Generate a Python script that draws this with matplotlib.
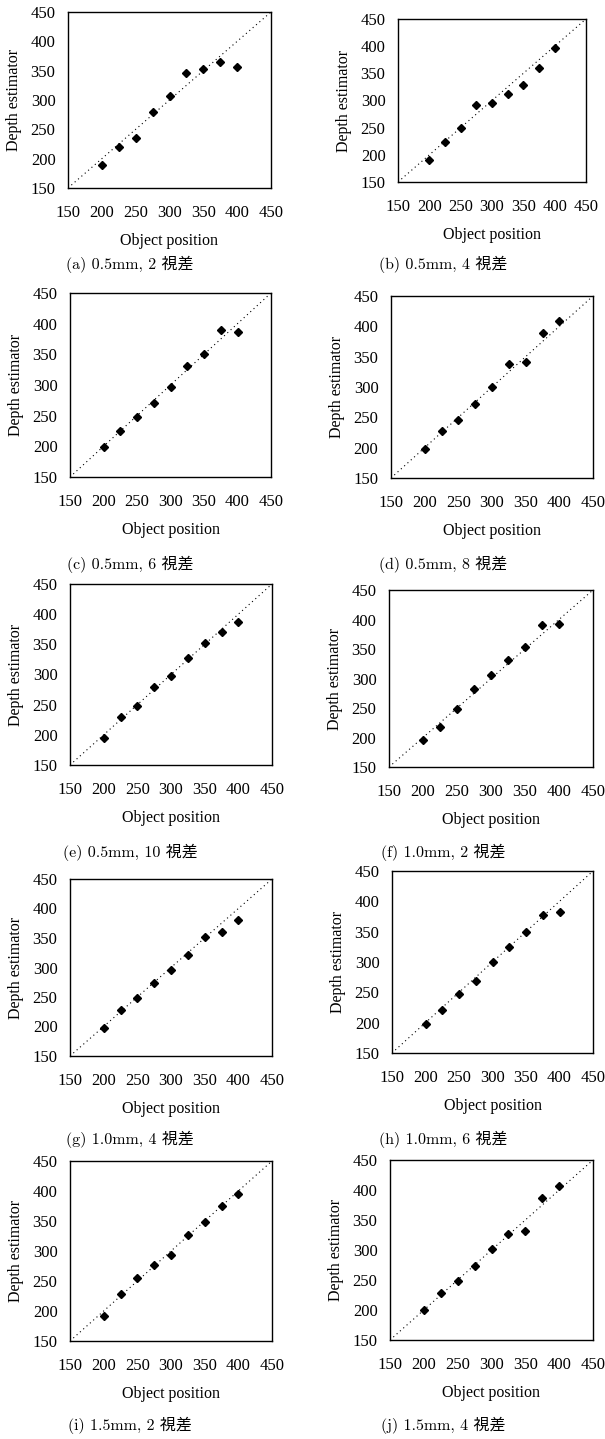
import matplotlib.pyplot as plt
import numpy as np

# object positions shared by every panel
positions = [200, 225, 250, 275, 300, 325, 350, 375, 400]

est_a = [190, 220, 235, 280, 306, 346, 353, 364, 356]
est_b = [190, 224, 250, 291, 295, 312, 329, 359, 396]
est_c = [199, 225, 248, 271, 297, 331, 351, 389, 386]
est_d = [197, 227, 246, 272, 300, 338, 341, 389, 409]
est_e = [195, 230, 248, 280, 297, 328, 352, 371, 387]
est_f = [196, 217, 248, 283, 306, 331, 354, 390, 393]
est_g = [197, 228, 249, 274, 296, 321, 352, 360, 381]
est_h = [197, 221, 248, 269, 300, 325, 350, 378, 383]
est_i = [192, 229, 255, 277, 293, 327, 348, 375, 395]
est_j = [200, 229, 249, 273, 302, 327, 331, 386, 406]

captions = [
    "(a) 0.5mm, 2 視差", "(b) 0.5mm, 4 視差",
    "(c) 0.5mm, 6 視差", "(d) 0.5mm, 8 視差",
    "(e) 0.5mm, 10 視差", "(f) 1.0mm, 2 視差",
    "(g) 1.0mm, 4 視差", "(h) 1.0mm, 6 視差",
    "(i) 1.5mm, 2 視差", "(j) 1.5mm, 4 視差",
]
ticks = [150, 200, 250, 300, 350, 400, 450]

W, H = 605, 1439
# axes boxes in pixels: left, right, top, bottom; caption centre (x, y)
layout = [
    (68, 271, 12, 188, 130, 264),
    (398, 586, 19, 182, 443, 264),
    (70, 271, 293, 477, 130, 564),
    (391, 593, 296, 478, 443, 564),
    (70, 272, 584, 765, 130, 852),
    (389, 593, 590, 767, 443, 852),
    (70, 272, 879, 1056, 130, 1139),
    (392, 593, 871, 1053, 443, 1139),
    (70, 272, 1161, 1341, 130, 1425),
    (390, 593, 1160, 1340, 443, 1425),
]
estimates = [est_a, est_b, est_c, est_d, est_e, est_f, est_g, est_h, est_i, est_j]

serif = "Liberation Serif"
fig = plt.figure(figsize=(W / 100, H / 100), dpi=100)

for est, cap, (x0, x1, y0, y1, cx, cy) in zip(estimates, captions, layout, strict=True):
    ax = fig.add_axes([x0 / W, 1 - y1 / H, (x1 - x0) / W, (y1 - y0) / H])
    ax.plot([150, 450], [150, 450], linestyle=(0, (1, 3)), color="black", linewidth=0.8)
    ax.plot(positions, est, linestyle="none", marker="D", markersize=3.8, color="black")
    ax.set_xlim(150, 450)
    ax.set_ylim(150, 450)
    ax.set_xticks(ticks)
    ax.set_yticks(ticks)
    ax.tick_params(length=0, labelsize=12)
    ax.tick_params(axis="x", pad=12)
    ax.tick_params(axis="y", pad=9)
    for lab in ax.get_xticklabels() + ax.get_yticklabels():
        lab.set_family(serif)
    for spine in ax.spines.values():
        spine.set_linewidth(1.0)
    ax.set_xlabel("Object position", family=serif, fontsize=11.5, labelpad=9)
    ax.set_ylabel("Depth estimator", family=serif, fontsize=11.5, labelpad=6)
    fig.text(cx / W, 1 - cy / H, cap, ha="center", va="center", fontsize=11.5,
             family=["cmr10", "Noto Sans CJK JP"])

fig.savefig("out.png", dpi=100)
